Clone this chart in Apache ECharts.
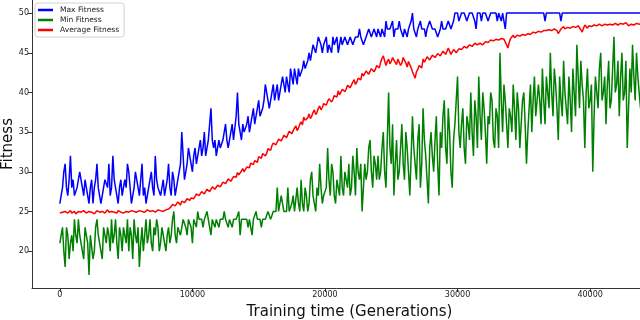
<!DOCTYPE html>
<html>
<head>
<meta charset="utf-8">
<script src="https://cdn.jsdelivr.net/npm/echarts@6/dist/echarts.min.js"></script>
<style>
  html, body { margin: 0; padding: 0; background: #fff; }
  #chart { width: 640px; height: 320px; }
</style>
</head>
<body>
<div id="chart"></div>
<script>
// one sample every 100 generations, 0 .. 44000
var STEP = 100
var seriesNames = ['Max Fitness', 'Min Fitness', 'Average Fitness']
var xTicks = [0, 10000, 20000, 30000, 40000]
var yTicks = [20, 25, 30, 35, 40, 45, 50]

var maxFitness = [
  26,27,28,30,31,28,27,29,32,28,29,27,27,28,28,30,30,28,27,29,
  28,27,26,28,29,26,28,29,31,28,27,26,26,28,29,29,28,31,27,28,
  32,29,28,27,26,28,29,27,27,29,28,31,30,28,26,27,28,30,29,28,
  27,29,31,27,28,26,27,28,29,30,28,27,32,29,28,28,27,28,29,27,
  28,29,31,28,27,30,29,27,28,29,30,31,35,32,29,30,31,33,32,31,
  30,32,33,31,31,33,34,32,33,35,32,33,34,36,38,34,33,34,32,33,
  34,33,33,34,35,36,34,33,33,35,36,34,34,37,40,36,35,34,36,35,
  35,36,37,35,36,37,38,36,37,38,39,37,37,38,39,41,40,39,38,39,
  40,41,39,40,41,39,40,41,42,41,40,42,41,40,43,42,41,43,42,41,
  43,42,42,43,44,43,43,44,45,44,44,46,46,45,45,47,47,46,45,46,
  46,47,45,46,46,45,47,46,46,47,45,46,47,46,46,47,47,46,46,47,
  47,46,46,47,47,47,48,47,47,46,46,47,47,48,48,47,47,48,48,47,
  48,48,47,48,48,47,49,48,48,48,48,49,47,48,48,48,49,48,48,47,
  48,48,47,48,48,49,50,48,48,47,48,48,49,48,48,48,47,48,48,49,
  49,48,48,48,48,47,47,48,49,48,48,48,48,49,49,48,48,49,50,50,
  50,49,49,50,50,50,50,49,49,50,50,50,50,49,48,50,50,50,49,50,
  50,50,50,49,49,50,50,50,50,50,49,50,50,49,50,50,48,50,50,50,
  50,50,50,50,50,50,50,50,50,50,50,50,50,50,50,50,50,50,50,50,
  50,50,50,50,50,50,49,50,50,50,50,50,50,50,50,50,50,50,49,50,
  50,50,50,50,50,50,50,50,50,50,50,50,50,50,50,50,50,50,50,50,
  50,50,50,50,50,50,50,50,50,50,50,50,50,50,50,50,50,50,50,50,
  50,50,50,50,50,50,50,50,50,50,50,50,50,50,50,50,50,50,50,50,
  50
]
var minFitness = [
  21,22,23,20,18,23,22,19,21,22,20,24,22,21,24,22,21,20,19,23,
  23,21,17,22,22,19,20,23,24,22,21,20,19,23,22,21,23,22,20,24,
  21,22,24,21,19,23,22,20,23,22,21,24,20,23,22,19,24,22,21,23,
  18,21,23,20,22,24,21,22,24,21,20,23,22,24,23,20,21,23,22,21,
  20,22,23,21,22,24,25,22,21,23,23,22,23,24,24,23,22,24,24,23,
  21,24,24,23,25,24,24,24,23,24,24,25,24,24,22,24,24,23,24,24,
  23,24,24,24,25,24,24,23,24,24,23,24,24,24,24,25,22,24,24,24,
  24,24,23,24,24,22,24,24,25,24,24,24,23,24,24,24,24,25,25,24,
  24,25,25,25,28,25,25,27,26,25,25,25,28,25,25,26,27,25,25,28,
  26,25,29,26,25,28,27,25,26,29,30,27,26,25,28,27,31,28,26,27,
  27,28,33,29,27,31,30,27,26,29,28,27,32,28,27,30,29,28,31,27,
  28,32,30,27,33,30,29,31,25,28,31,29,30,33,34,30,28,32,31,29,
  32,29,30,33,35,30,28,34,40,33,31,36,27,31,34,29,30,33,36,31,
  29,35,33,30,27,32,37,33,31,29,34,36,28,31,38,34,32,29,26,33,
  35,32,30,34,37,31,27,35,33,37,39,33,31,38,35,30,28,34,36,39,
  42,35,33,36,38,33,31,37,36,34,40,35,32,39,37,33,42,37,34,40,
  38,35,31,37,36,40,39,34,33,38,37,33,45,39,35,41,39,36,33,38,
  37,35,41,38,34,40,38,33,36,39,40,36,31,35,38,41,35,39,42,37,
  37,41,39,36,43,39,36,42,40,38,45,40,37,43,41,38,34,42,39,37,
  44,40,38,36,42,39,35,43,40,37,46,42,38,44,41,39,33,40,43,38,
  39,41,30,37,42,40,38,43,45,39,40,42,36,41,44,38,39,43,47,40,
  41,44,37,42,45,39,40,44,33,38,43,40,46,42,39,45,42,40,38,43,
  44
]
var avgFitness = [
  24.8,25.0,24.9,24.8,25.0,24.9,24.8,25.0,25.1,24.8,24.9,25.0,24.7,24.9,25.0,24.8,24.9,25.0,25.1,24.9,
  24.8,24.9,25.0,25.1,24.9,24.8,24.7,24.9,25.1,25.0,24.9,24.8,25.0,24.9,24.8,25.0,25.2,24.9,24.9,25.0,
  24.8,24.9,25.0,24.8,25.1,25.0,24.9,25.0,24.8,24.9,25.0,25.1,24.9,25.0,25.1,24.9,25.0,25.1,24.9,25.0,
  25.1,24.9,25.0,25.1,24.9,25.0,25.2,25.0,25.0,25.2,25.1,24.9,24.9,25.1,25.2,25.0,25.1,25.2,25.0,25.1,
  25.2,25.1,25.3,25.4,25.6,25.9,26.1,25.7,25.8,26.2,26.0,25.8,26.3,26.5,26.1,26.2,26.6,26.4,26.4,26.7,
  26.8,26.6,26.9,27.2,27.3,27.0,27.1,27.5,27.6,27.2,27.4,27.8,27.9,27.5,27.7,28.1,28.2,27.8,28.0,28.3,
  28.4,28.1,28.3,28.7,28.8,28.5,28.6,29.1,29.2,28.8,29.0,29.4,29.6,29.3,29.9,29.6,29.7,30.1,30.4,30.0,
  30.2,30.6,30.8,30.5,31.1,31.3,30.9,31.4,31.6,31.2,31.9,32.1,31.7,32.3,32.5,32.0,32.3,32.9,33.0,32.7,
  33.3,33.6,33.8,33.4,33.5,34.1,34.3,33.9,34.1,34.6,34.8,34.3,34.5,35.1,35.3,34.8,35.0,35.5,35.8,35.2,
  35.5,36.0,36.3,35.9,36.9,36.5,36.4,36.8,37.3,36.7,37.0,37.5,37.8,37.2,37.5,38.0,38.3,37.8,38.1,38.6,
  38.7,38.4,38.9,39.2,39.4,38.8,39.1,39.6,39.8,39.4,40.2,39.7,39.9,40.4,40.6,40.1,40.4,40.9,41.1,40.6,
  40.8,41.3,41.6,41.0,41.3,41.8,42.0,41.6,42.4,42.1,42.1,42.7,42.8,42.3,42.5,43.0,43.2,42.6,42.9,43.4,
  43.5,43.1,43.8,44.3,44.6,44.0,43.4,43.9,44.2,43.6,43.9,44.4,44.5,43.8,43.5,44.2,44.1,43.4,43.7,44.4,
  44.3,43.7,43.2,43.9,43.8,43.1,42.6,42.2,41.8,42.6,42.9,43.4,43.6,43.1,44.2,43.8,43.9,44.5,44.6,44.1,
  44.3,44.7,44.9,44.4,44.5,44.9,45.1,44.6,44.7,45.2,45.3,44.8,44.9,45.6,45.4,44.8,45.1,45.4,45.6,45.0,
  45.2,45.5,45.7,45.4,45.3,45.8,45.9,45.6,45.5,46.0,46.1,45.8,45.7,46.2,46.3,46.0,45.9,46.2,46.4,46.0,
  46.1,46.4,46.6,46.3,46.2,46.6,46.8,46.5,46.4,46.7,46.9,46.6,46.5,46.8,47.0,46.7,46.6,46.0,45.6,46.3,
  46.8,47.0,47.2,46.9,46.9,47.2,47.4,47.1,47.0,47.3,47.5,47.2,47.1,47.4,47.6,47.3,47.3,47.6,47.8,47.5,
  47.4,47.7,47.9,47.6,47.5,47.8,48.0,47.8,47.6,47.9,48.1,47.8,47.7,48.0,48.2,47.8,47.4,47.7,48.0,48.2,
  48.3,48.0,47.9,48.2,48.4,48.1,48.0,48.3,48.5,48.2,48.1,48.4,48.3,47.9,47.6,48.1,48.5,48.3,48.1,48.4,
  48.6,48.3,48.2,48.5,48.7,48.4,48.3,48.6,48.6,48.4,48.2,48.6,48.8,48.5,48.4,48.6,48.7,48.5,48.3,48.7,
  48.8,48.5,48.4,48.7,48.9,48.6,48.5,48.8,48.7,48.4,48.3,48.6,48.8,48.5,48.5,48.7,48.9,48.6,48.4,48.7,
  48.7
]

function toPairs(values) {
  return values.map(function (v, i) { return [i * STEP, v] })
}

function makeLine(name, color, values) {
  return {
    name: name,
    type: 'line',
    data: toPairs(values),
    showSymbol: false,
    symbol: 'none',
    lineStyle: { color: color, width: 1.5 },
    itemStyle: { color: color },
    clip: true,
    animation: false
  }
}

var chart = echarts.init(document.getElementById('chart'), null, { renderer: 'canvas' })
var font = 'DejaVu Sans'
var option = {
  animation: false,
  textStyle: { fontFamily: font },
  grid: { left: 32, right: -27, top: 0, bottom: 32, containLabel: false, outerBoundsMode: 'none' },
  legend: {
    orient: 'vertical',
    left: 35,
    top: 3,
    data: seriesNames,
    icon: 'rect',
    itemWidth: 15,
    itemHeight: 2.5,
    itemGap: 2,
    padding: [3, 5, 3, 3],
    borderColor: '#d0d0d0',
    borderWidth: 1,
    borderRadius: 3,
    backgroundColor: '#fff',
    textStyle: { fontSize: 7.5, color: '#222', fontFamily: font, padding: [0, 0, 0, 2] }
  },
  xAxis: {
    type: 'value',
    min: -2100,
    max: 45800,
    name: 'Training time (Generations)',
    nameLocation: 'middle',
    nameGap: 17,
    nameMoveOverlap: false,
    nameTextStyle: { fontSize: 15, color: '#111', fontFamily: font },
    axisLine: { show: true, onZero: false, lineStyle: { color: '#333', width: 1 } },
    axisTick: { show: true, length: 4, customValues: xTicks, lineStyle: { color: '#333' } },
    axisLabel: {
      customValues: xTicks, fontSize: 8, color: '#222', margin: 3, fontFamily: font,
      formatter: function (v) { return String(v) }
    },
    splitLine: { show: false }
  },
  yAxis: {
    type: 'value',
    min: 15.35,
    max: 51.65,
    name: 'Fitness',
    nameLocation: 'middle',
    nameRotate: 90,
    nameGap: 16,
    nameMoveOverlap: false,
    nameTextStyle: { fontSize: 15, color: '#111', fontFamily: font },
    axisLine: { show: true, onZero: false, lineStyle: { color: '#333', width: 1 } },
    axisTick: { show: true, length: 4, customValues: yTicks, lineStyle: { color: '#333' } },
    axisLabel: { customValues: yTicks, fontSize: 8, color: '#222', margin: 3, fontFamily: font },
    splitLine: { show: false }
  },
  series: [
    makeLine(seriesNames[0], '#0000ff', maxFitness),
    makeLine(seriesNames[1], '#008000', minFitness),
    makeLine(seriesNames[2], '#ff0000', avgFitness)
  ]
}
chart.setOption(option)
</script>
</body>
</html>
